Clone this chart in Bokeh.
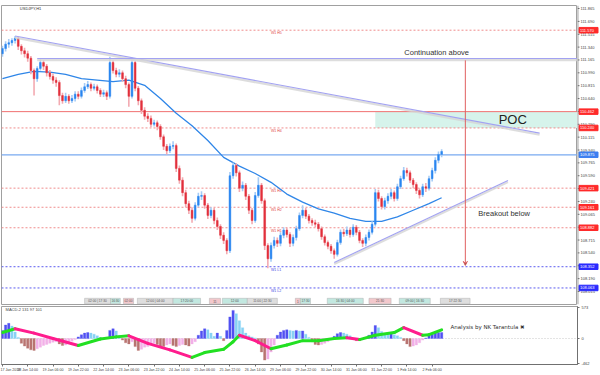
import numpy as np
from bokeh.plotting import figure
from bokeh.layouts import column, row
from bokeh.models import (Range1d, FixedTicker, Span, BoxAnnotation,
                          Arrow, VeeHead, ColumnDataSource)
from bokeh.embed import file_html
from bokeh.resources import INLINE
from bokeh.core.properties import value

# ---------------- data (2-hour bars, USDJPY) ----------------
open_ = [111.25, 111.32, 111.38, 111.40, 111.43, 111.46, 111.35, 111.29, 111.25, 111.19,
         111.02, 110.91, 111.05, 111.13, 111.08, 110.99, 110.94, 110.89, 110.86, 110.68,
         110.61, 110.67, 110.61, 110.64, 110.70, 110.67, 110.75, 110.80, 110.83, 110.78,
         110.80, 110.75, 110.70, 110.72, 110.67, 111.13, 111.02, 110.97, 110.99, 110.91,
         110.83, 110.67, 111.13, 110.78, 110.61, 110.48, 110.40, 110.37, 110.29, 110.31,
         110.26, 110.12, 109.99, 109.93, 109.99, 110.00, 109.69, 109.53, 109.36, 109.21,
         109.12, 109.01, 109.19, 109.31, 109.32, 109.19, 109.05, 109.12, 108.98, 108.90,
         108.78, 108.71, 108.57, 109.59, 109.73, 109.63, 109.42, 109.46, 109.31, 109.12,
         108.98, 109.32, 109.46, 109.25, 108.64, 108.46, 108.64, 108.71, 108.67, 108.78,
         108.85, 108.79, 108.67, 108.75, 108.87, 109.05, 109.12, 109.04, 108.98, 108.95,
         108.93, 108.87, 108.76, 108.68, 108.63, 108.57, 108.52, 108.68, 108.82, 108.80,
         108.85, 108.79, 108.89, 108.82, 108.71, 108.67, 108.75, 108.82, 108.93, 109.36,
         109.28, 109.17, 109.25, 109.31, 109.36, 109.28, 109.44, 109.55, 109.66, 109.63,
         109.53, 109.47, 109.39, 109.33, 109.44, 109.42, 109.55, 109.66, 109.80, 109.88]
close = [111.32, 111.38, 111.40, 111.43, 111.46, 111.35, 111.29, 111.25, 111.19, 111.02,
         110.91, 111.05, 111.13, 111.08, 110.99, 110.94, 110.89, 110.86, 110.68, 110.61,
         110.67, 110.61, 110.64, 110.70, 110.67, 110.75, 110.80, 110.83, 110.78, 110.80,
         110.75, 110.70, 110.72, 110.67, 111.13, 111.02, 110.97, 110.99, 110.91, 110.83,
         110.67, 111.13, 110.78, 110.61, 110.48, 110.40, 110.37, 110.29, 110.31, 110.26,
         110.12, 109.99, 109.93, 109.99, 110.00, 109.69, 109.53, 109.36, 109.21, 109.12,
         109.01, 109.19, 109.31, 109.32, 109.19, 109.05, 109.12, 108.98, 108.90, 108.78,
         108.71, 108.57, 109.59, 109.73, 109.63, 109.42, 109.46, 109.31, 109.12, 108.98,
         109.32, 109.46, 109.25, 108.64, 108.46, 108.64, 108.71, 108.67, 108.78, 108.85,
         108.79, 108.67, 108.75, 108.87, 109.05, 109.12, 109.04, 108.98, 108.95, 108.93,
         108.87, 108.76, 108.68, 108.63, 108.57, 108.52, 108.68, 108.82, 108.80, 108.85,
         108.79, 108.89, 108.82, 108.71, 108.67, 108.75, 108.82, 108.93, 109.36, 109.28,
         109.17, 109.25, 109.31, 109.36, 109.28, 109.44, 109.55, 109.66, 109.63, 109.53,
         109.47, 109.39, 109.33, 109.44, 109.42, 109.55, 109.66, 109.80, 109.88, 109.92]
high = [111.36, 111.42, 111.45, 111.46, 111.49, 111.48, 111.38, 111.33, 111.29, 111.22,
        111.05, 111.08, 111.17, 111.16, 111.11, 111.03, 110.98, 110.93, 110.89, 110.72,
        110.72, 110.70, 110.69, 110.74, 110.74, 110.79, 110.85, 110.88, 110.86, 110.84,
        110.83, 110.78, 110.76, 110.75, 111.21, 111.16, 111.06, 111.04, 111.02, 110.95,
        110.86, 111.20, 111.15, 110.81, 110.64, 110.52, 110.44, 110.41, 110.35, 110.34,
        110.29, 110.15, 110.02, 110.03, 110.06, 110.03, 109.73, 109.57, 109.40, 109.25,
        109.16, 109.23, 109.36, 109.38, 109.35, 109.22, 109.16, 109.15, 109.02, 108.93,
        108.82, 108.74, 109.64, 109.77, 109.76, 109.66, 109.51, 109.49, 109.34, 109.15,
        109.37, 109.57, 109.49, 109.28, 108.67, 108.68, 108.76, 108.75, 108.82, 108.89,
        108.88, 108.82, 108.79, 108.91, 109.09, 109.19, 109.15, 109.07, 109.01, 108.99,
        108.96, 108.90, 108.79, 108.71, 108.66, 108.60, 108.72, 108.86, 108.87, 108.90,
        108.88, 108.93, 108.92, 108.85, 108.74, 108.79, 108.86, 108.97, 109.41, 109.40,
        109.31, 109.29, 109.35, 109.41, 109.39, 109.48, 109.59, 109.71, 109.70, 109.66,
        109.56, 109.50, 109.42, 109.48, 109.49, 109.59, 109.70, 109.84, 109.92, 109.95]
low = [111.21, 111.28, 111.33, 111.36, 111.39, 111.30, 111.24, 111.20, 111.14, 110.97,
       110.68, 110.87, 111.02, 111.03, 110.94, 110.90, 110.84, 110.80, 110.55, 110.57,
       110.58, 110.57, 110.58, 110.60, 110.63, 110.64, 110.72, 110.77, 110.74, 110.75,
       110.71, 110.66, 110.66, 110.62, 110.64, 110.98, 110.93, 110.93, 110.87, 110.78,
       110.53, 110.64, 110.74, 110.55, 110.43, 110.35, 110.32, 110.25, 110.26, 110.21,
       110.08, 109.94, 109.88, 109.90, 109.95, 109.64, 109.48, 109.31, 109.16, 109.07,
       108.95, 108.98, 109.16, 109.26, 109.14, 109.00, 109.01, 108.93, 108.85, 108.73,
       108.66, 108.52, 108.54, 109.55, 109.58, 109.37, 109.38, 109.26, 109.07, 108.93,
       108.95, 109.29, 109.21, 108.58, 108.33, 108.42, 108.60, 108.62, 108.63, 108.74,
       108.75, 108.62, 108.63, 108.71, 108.84, 109.01, 109.00, 108.94, 108.91, 108.89,
       108.83, 108.72, 108.64, 108.59, 108.53, 108.46, 108.49, 108.65, 108.76, 108.77,
       108.75, 108.76, 108.78, 108.67, 108.62, 108.63, 108.71, 108.79, 108.90, 109.24,
       109.13, 109.13, 109.21, 109.27, 109.24, 109.25, 109.41, 109.52, 109.58, 109.49,
       109.42, 109.34, 109.28, 109.30, 109.37, 109.39, 109.51, 109.62, 109.76, 109.84]

ma_idx = [0, 5, 10, 15, 20, 25, 30, 35, 40, 45, 50, 55, 60, 65, 70, 75, 80, 85, 90, 95,
          100, 105, 110, 115, 120, 125, 130, 135, 139]
ma_val = [110.91, 110.97, 111.01, 111.00, 110.97, 110.91, 110.89, 110.87, 110.89, 110.82,
          110.64, 110.44, 110.27, 110.07, 109.84, 109.72, 109.62, 109.50, 109.34, 109.23,
          109.14, 109.08, 109.01, 108.97, 108.97, 109.03, 109.12, 109.21, 109.29]

macd_hist = [150, 250, 280, 230, 120, 20, -90, -140, -180, -210,
             -220, -190, -160, -130, -110, -90, -70, -60, -100, -130,
             -120, -90, -50, -20, 30, 70, 100, 110, 100, 80,
             50, 20, -10, 20, 150, 180, 140, 60, -30, -80,
             -100, -60, -150, -220, -200, -160, -150, -120, -90, -110,
             -140, -150, -120, -100, -130, -150, -130, -110, -120, -140,
             -100, -60, 60, 140, 180, 160, 100, 40, 100, 40,
             -40, 150, 400, 520, 460, 330, 200, 100, 50, 30,
             10, -100, -250, -400, -380, -250, -120, 60, 120, 150,
             160, 150, 140, 150, 140, 140, 80, 20, -60, -110,
             -120, -110, -90, -60, -20, 40, 90, 110, 100, 80,
             50, -10, -40, -40, -20, 10, 60, 120, 240, 200,
             130, 90, 80, 90, 70, 50, 20, -40, -100, -150,
             -140, -120, -80, -30, 10, 50, 80, 100, 110, 110]
sig_idx = [0, 4, 10, 16, 24, 31, 36, 40, 46, 53, 60, 64, 70, 73, 75, 80, 85, 90, 95,
           100, 105, 109, 113, 118, 124, 127, 133, 135, 139]
sig_val = [110, 180, 100, 0, -130, -10, 30, 50, -90, -210, -350, -260, -200, -60, 60,
           -40, -190, -120, -40, -40, 0, 15, -20, 60, 110, 200, 60, 70, 160]

price_ticks = [108.015, 108.190, 108.365, 108.540, 108.715, 108.890, 109.065, 109.240,
               109.415, 109.590, 109.765, 109.940, 110.115, 110.290, 110.465, 110.640,
               110.815, 110.990, 111.165, 111.340, 111.515, 111.690, 111.865]
time_idx = [0, 8, 16, 24, 32, 40, 48, 56, 64, 72, 80, 88, 96, 104, 112, 120, 128, 136]
time_labels = ["17 Jan 2018", "18 Jan 14:00", "19 Jan 06:00", "19 Jan 22:00", "22 Jan 14:00",
               "23 Jan 06:00", "23 Jan 22:00", "24 Jan 14:00", "25 Jan 06:00", "25 Jan 22:00",
               "26 Jan 14:00", "29 Jan 06:00", "29 Jan 22:00", "30 Jan 14:00", "31 Jan 06:00",
               "31 Jan 22:00", "1 Feb 14:00", "2 Feb 06:00"]
macd_ticks = [-462, 0, 573]

red_solid = [110.462]
red_dotted = [111.570, 110.240, 109.421, 109.161, 108.882]
red_dotted_tags = ["W1 H5", "W1 H4", "W1 H3", "W1 H2", "W1 H1"]
blue_solid = [109.875]
blue_dotted = [108.352, 108.063]
blue_dotted_tags = ["W1 L1", "W1 L2"]

desc_x = [4, 170]
desc_y = [111.49, 110.17]
flat_x = [11, 182]
flat_y = [111.185, 111.185]
asc_x = [105, 160]
asc_y = [108.41, 109.525]
poc_left, poc_bottom, poc_top = 118, 110.240, 110.462
arrow_x, arrow_top, arrow_bottom = 146.5, 111.16, 108.37

tbox_left = [26, 34.2, 38.3, 42.7, 54, 65.5, 69.6, 77.5, 92.7, 94.3, 102.8, 116, 125.6, 138.6]
tbox_right = [34.2, 37.3, 41.5, 54, 62.7, 69, 77.5, 87, 94.3, 97.5, 114.2, 123, 135.4, 148]
tbox_kind = ["g", "t", "p", "g", "t", "p", "t", "g", "p", "t", "t", "p", "t", "g"]
tbox_text = ["02:00 | 17:30", "16:30", "02:00", "12:00 | 04:00", "17:20:00", "11", "12:00",
             "11:00 | 22:30", "1", "17:30", "16:30 | 04:00", "21:30", "09:00 | 16:30", "17:22:30"]

FONT = "Liberation Sans"
n = len(close)
idx = list(range(n))
YR = Range1d(107.838, 111.906)

# ---------------- main price pane ----------------
p = figure(width=577, height=305, x_range=Range1d(-0.3, 182), y_range=YR,
           output_backend="svg", toolbar_location=None, x_axis_location=None,
           y_axis_location=None, min_border_left=1, min_border_right=0,
           min_border_top=5, min_border_bottom=1)
p.grid.visible = False
p.outline_line_color = "#a0a0a0"

p.add_layout(BoxAnnotation(left=poc_left, bottom=poc_bottom, top=poc_top,
                           fill_color="#d6f3eb", fill_alpha=1, line_alpha=0, level="underlay"))
for lv in red_solid:
    p.add_layout(Span(location=lv, dimension="width", line_color="#f07070", line_width=1, level="underlay"))
for lv in red_dotted:
    p.add_layout(Span(location=lv, dimension="width", line_color="#f08c8c", line_width=1,
                      line_dash="2 2", level="underlay"))
for lv in blue_solid:
    p.add_layout(Span(location=lv, dimension="width", line_color="#78aaf0", line_width=1.2, level="underlay"))
for lv in blue_dotted:
    p.add_layout(Span(location=lv, dimension="width", line_color="#5a5af0", line_width=1,
                      line_dash="2 2", level="underlay"))

p.text(x=[85] * len(red_dotted), y=red_dotted, text=red_dotted_tags, text_font=value(FONT),
       text_font_size="3.5px", text_color="#e04040", text_baseline="top", y_offset=1)
p.text(x=[85] * len(blue_dotted), y=blue_dotted, text=blue_dotted_tags, text_font=value(FONT),
       text_font_size="3.5px", text_color="#4040e0", text_baseline="top", y_offset=1)

p.line(ma_idx, ma_val, line_color="#2f86e8", line_width=1.3)

o = np.array(open_); c = np.array(close)
bull = c >= o
src = ColumnDataSource(dict(
    x=idx, high=high, low=low,
    top=np.maximum(o, c), bottom=np.minimum(o, c),
    body=np.where(bull, "#2a86f0", "#e2303c"),
    wick=np.where(bull, "#a6ccf6", "#f3aab1"),
))
p.segment(x0="x", y0="low", x1="x", y1="high", line_color="wick", line_width=1.6, source=src)
p.vbar(x="x", width=0.55, top="top", bottom="bottom", fill_color="body", line_color="body",
       line_width=0.5, source=src)

for xs, ys in [(desc_x, desc_y), (flat_x, flat_y), (asc_x, asc_y)]:
    p.line(xs, [y - 0.022 for y in ys], line_color="#d4d4d4", line_width=2.2, line_alpha=0.8)
    p.line(xs, ys, line_color="#a2a2f2", line_width=1.1)

p.add_layout(Arrow(end=VeeHead(size=4, line_color="#e06060", line_width=1),
                   x_start=arrow_x, y_start=arrow_top, x_end=arrow_x, y_end=arrow_bottom,
                   line_color="#e06060", line_width=1))

p.text(x=[127.2], y=[111.20], text=["Continuation above"], text_font=value(FONT),
       text_font_size="7.5px", text_color="#333333", text_baseline="bottom")
p.text(x=[161.5], y=[110.351], text=["POC"], text_font=value(FONT),
       text_font_size="13px", text_color="#222222", text_baseline="middle", text_align="center")
p.text(x=[150.6], y=[109.08], text=["Breakout below"], text_font=value(FONT),
       text_font_size="7.5px", text_color="#333333", text_baseline="middle")
p.text(x=[5.5], y=[111.90], text=["USDJPY,H1"], text_font=value(FONT),
       text_font_size="4px", text_color="#333333", text_baseline="top")

kind_col = {"g": "#dedede", "t": "#c2e8e0", "p": "#f3c8cc"}
bsrc = ColumnDataSource(dict(
    x=[(a + b) / 2 for a, b in zip(tbox_left, tbox_right)],
    w=[b - a for a, b in zip(tbox_left, tbox_right)],
    col=[kind_col[k] for k in tbox_kind], txt=tbox_text))
p.rect(x="x", y=107.885, width="w", height=0.075, fill_color="col", line_color="#b0b0b0",
       line_width=0.5, source=bsrc)
p.text(x="x", y=107.885, text="txt", text_font=value(FONT), text_font_size="3.2px",
       text_color="#555555", text_align="center", text_baseline="middle", source=bsrc)

# ---------------- price scale strip (right) ----------------
q = figure(width=23, height=305, x_range=Range1d(0, 23), y_range=YR,
           output_backend="svg", toolbar_location=None, x_axis_location=None,
           y_axis_location=None, min_border_left=0, min_border_right=0,
           min_border_top=5, min_border_bottom=1)
q.grid.visible = False
q.outline_line_color = None
q.add_layout(Span(location=0.3, dimension="height", line_color="#707070", line_width=1))
q.segment(x0=0, y0=price_ticks, x1=2, y1=price_ticks, line_color="#707070", line_width=1)
q.text(x=3, y=price_ticks, text=[f"{t:.3f}" for t in price_ticks], text_font=value(FONT),
       text_font_size="4px", text_color="#444444", text_baseline="middle")
tag_vals = red_solid + red_dotted + blue_solid + blue_dotted
tag_cols = (["#ff2a2a"] * (len(red_solid) + len(red_dotted)) + ["#3d7ff0"] * len(blue_solid)
            + ["#2b2bff"] * len(blue_dotted))
q.rect(x=11, y=tag_vals, width=19, height=5.5, height_units="screen",
       fill_color=tag_cols, line_color=tag_cols)
q.text(x=2.5, y=tag_vals, text=[f"{v:.3f}" for v in tag_vals], text_font=value(FONT),
       text_font_size="4px", text_color="white", text_baseline="middle")

# ---------------- MACD pane ----------------
m = figure(width=600, height=70, x_range=p.x_range, y_range=Range1d(-481, 592),
           output_backend="svg", toolbar_location=None, y_axis_location="right",
           min_border_left=1, min_border_right=23, min_border_top=1, min_border_bottom=11)
m.grid.visible = False
m.outline_line_color = "#a0a0a0"
my = m.yaxis[0]
my.ticker = FixedTicker(ticks=macd_ticks)
my.major_label_overrides = {t: str(t) for t in macd_ticks}
my.major_label_text_font_size = "4px"
my.major_label_text_font = FONT
my.major_label_text_color = "#444444"
my.axis_line_color = "#707070"
my.major_tick_line_color = "#707070"
my.major_tick_in = 0
my.major_tick_out = 2
my.minor_tick_line_color = None
my.major_label_standoff = 2
mx = m.xaxis[0]
mx.ticker = FixedTicker(ticks=time_idx)
mx.major_label_overrides = {t: lab for t, lab in zip(time_idx, time_labels)}
mx.major_label_text_font_size = "3.6px"
mx.major_label_text_font = FONT
mx.major_label_text_color = "#444444"
mx.major_label_text_align = "left"
mx.axis_line_color = "#707070"
mx.major_tick_line_color = "#707070"
mx.major_tick_in = 0
mx.major_tick_out = 2
mx.minor_tick_line_color = None
mx.major_label_standoff = 1

m.add_layout(Span(location=0, dimension="width", line_color="#c8c8c8", line_dash="1 2",
                  line_width=1, level="underlay"))

hist_colors = []
for i, v in enumerate(macd_hist):
    prev = macd_hist[i - 1] if i > 0 else 0
    if v >= 0:
        hist_colors.append("#5050f2" if v >= prev else "#88d2f4")
    else:
        hist_colors.append("#b97471" if v <= prev else "#f2b0e8")
m.vbar(x=idx, top=macd_hist, bottom=0, width=0.75, fill_color=hist_colors,
       line_color=hist_colors, line_width=0.3)

seg_col = ["#22e022" if b >= a else "#ff1c8d" for a, b in zip(sig_val[:-1], sig_val[1:])]
m.segment(x0=sig_idx[:-1], y0=sig_val[:-1], x1=sig_idx[1:], y1=sig_val[1:],
          line_color=seg_col, line_width=3, line_cap="round")

m.text(x=[1], y=[575], text=["MACD-2 131 97 101"], text_font=value(FONT),
       text_font_size="4px", text_color="#444444", text_baseline="top")
m.text(x=[141.8], y=[222], text=["Analysis by NK Tarantula \u2716"], text_font=value("DejaVu Sans"),
       text_font_size="5.5px", text_color="#333333", text_baseline="middle")

layout = column(row(p, q, spacing=0), m, spacing=0)
open("out.html", "w").write(file_html(layout, INLINE))
